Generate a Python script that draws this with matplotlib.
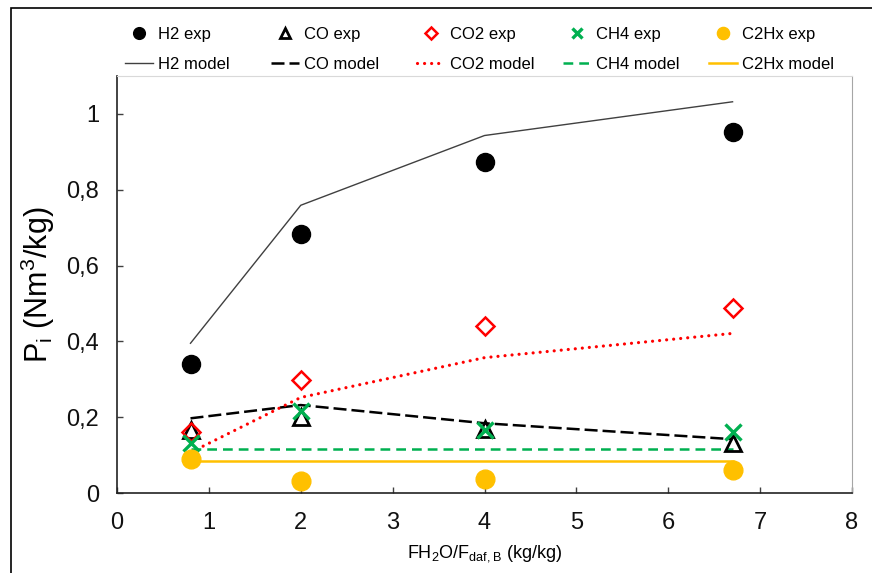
import matplotlib
matplotlib.use("Agg")
import matplotlib.pyplot as plt
from matplotlib.patches import Rectangle
from matplotlib.ticker import FuncFormatter

plt.rcParams['font.family'] = ['Liberation Sans', 'DejaVu Sans']
plt.rcParams['mathtext.fontset'] = 'custom'
plt.rcParams['mathtext.rm'] = 'Liberation Sans'

# steam to biomass ratio (kg/kg)
ratio = [0.8, 2, 4, 6.7]

# experimental gas yields (Nm3/kg)
h2_exp = [0.339, 0.684, 0.872, 0.953]
co_exp = [0.165, 0.200, 0.168, 0.133]
co2_exp = [0.161, 0.297, 0.440, 0.488]
ch4_exp = [0.132, 0.217, 0.167, 0.160]
c2hx_exp = [0.091, 0.032, 0.037, 0.061]

# model gas yields (Nm3/kg)
h2_model = [0.395, 0.759, 0.943, 1.032]
co_model = [0.197, 0.232, 0.184, 0.142]
co2_model = [0.107, 0.252, 0.357, 0.421]
ch4_model = [0.115, 0.115, 0.115, 0.115]
c2hx_model = [0.084, 0.084, 0.084, 0.084]

fig = plt.figure(figsize=(8.72, 5.73), dpi=100)
ax = fig.add_axes([117 / 872, 1 - 493 / 573, 735 / 872, 417 / 573])

# outer chart border
fig.add_artist(Rectangle((11 / 872, -0.1), 1.1, 1 - 8 / 573 + 0.1, transform=fig.transFigure,
                         fill=False, edgecolor='black', lw=1.2))

# model lines
l_h2, = ax.plot(ratio, h2_model, color='#404040', lw=1.0, label='H2 model')
l_co, = ax.plot(ratio, co_model, color='black', lw=1.8, dashes=(5.2, 2.0), label='CO model')
l_co2, = ax.plot(ratio, co2_model, color='#FF0000', lw=2.3, dashes=(0.01, 2.2),
                 dash_capstyle='round', label='CO2 model')
l_ch4, = ax.plot(ratio, ch4_model, color='#00B050', lw=1.8, dashes=(3.9, 2.4), label='CH4 model')
l_c2, = ax.plot(ratio, c2hx_model, color='#FFC000', lw=1.8, label='C2Hx model')

# experimental points
p_h2, = ax.plot(ratio, h2_exp, 'o', color='black', ms=13, ls='none', label='H2 exp')
p_co, = ax.plot(ratio, co_exp, '^', mfc='none', mec='black', mew=2.0, ms=11, ls='none', label='CO exp')
p_co2, = ax.plot(ratio, co2_exp, 'D', mfc='none', mec='#FF0000', mew=1.8, ms=9.5, ls='none', label='CO2 exp')
p_ch4, = ax.plot(ratio, ch4_exp, 'x', color='#00B050', mew=2.4, ms=12, ls='none', label='CH4 exp')
p_c2, = ax.plot(ratio, c2hx_exp, 'o', color='#FFC000', ms=13.5, ls='none', label='C2Hx exp')

ax.set_xlim(0, 8)
ax.set_ylim(0, 1.1)
ax.set_xticks(range(0, 9))
ax.set_yticks([0, 0.2, 0.4, 0.6, 0.8, 1.0])
ax.yaxis.set_major_formatter(FuncFormatter(lambda v, p: ('%g' % round(v, 1)).replace('.', ',')))
ax.tick_params(direction='in', length=4.5, width=1, color='#404040',
               labelsize=17, labelcolor='#111111')
ax.tick_params(axis='y', pad=13)
ax.tick_params(axis='x', pad=14)

for s in ['left', 'bottom']:
    ax.spines[s].set_color('#222222')
    ax.spines[s].set_linewidth(1.2)
ax.spines['top'].set_color('#d9d9d9')
ax.spines['right'].set_color('#a6a6a6')

ax.set_ylabel(r'P$_\mathregular{i}$ (Nm$^\mathregular{3}$/kg)', fontsize=22)
ax.yaxis.set_label_coords(-0.082, 0.5)
ax.set_xlabel(r'FH$_\mathregular{2}$O/F$_\mathregular{daf,B}$ (kg/kg)', fontsize=13)
ax.xaxis.set_label_coords(0.5, -0.12)

# legend: one column per gas
pairs = [(p_h2, l_h2), (p_co, l_co), (p_co2, l_co2), (p_ch4, l_ch4), (p_c2, l_c2)]
for i, (pt, ln) in enumerate(pairs):
    fig.legend(handles=[pt, ln], loc='upper left',
               bbox_to_anchor=((125 + 146 * i) / 872, 1 - 27 / 573),
               frameon=False, fontsize=12, markerscale=0.65, handlelength=1.7,
               handletextpad=0.28, labelspacing=0.9, borderpad=0, borderaxespad=0)

fig.savefig('out.png', dpi=100)
